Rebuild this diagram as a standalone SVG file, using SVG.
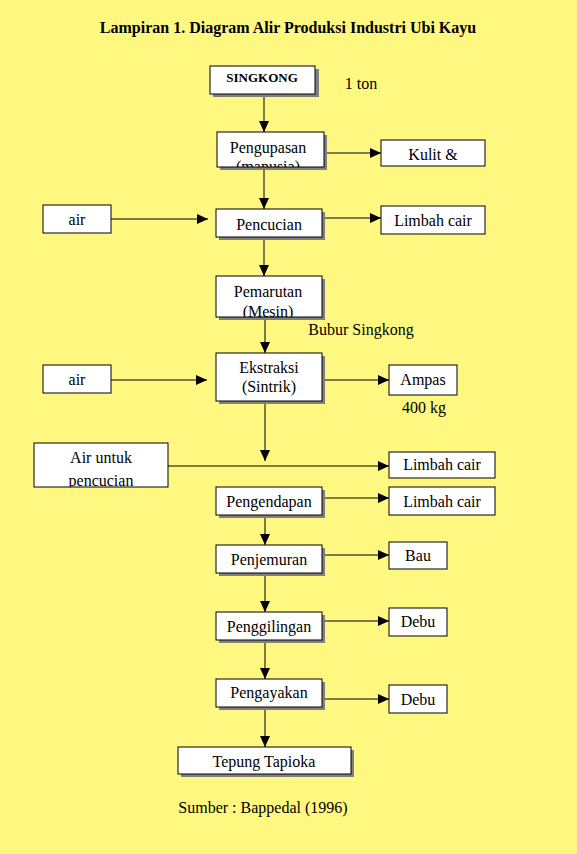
<svg xmlns="http://www.w3.org/2000/svg" width="577" height="854" viewBox="0 0 577 854">
<style>
.bx{fill:#fff;stroke:#000;stroke-width:1}
.sh{fill:#808080}
.t{font-family:"Liberation Serif","Times New Roman",serif;font-size:16px;fill:#000;text-anchor:middle}
.ln{stroke:#000;stroke-width:1;fill:none}
.ar{marker-end:url(#ah)}
</style>
<defs>
<marker id="ah" markerUnits="userSpaceOnUse" markerWidth="11" markerHeight="10" refX="11" refY="5" orient="auto">
<path d="M0,0 L11,5 L0,10 z" fill="#000"/>
</marker>
<clipPath id="c1"><rect x="217" y="132" width="107" height="35"/></clipPath>
<clipPath id="c2"><rect x="216" y="276" width="106" height="41"/></clipPath>
<clipPath id="c3"><rect x="34" y="443" width="134" height="44"/></clipPath>
</defs>
<rect width="577" height="854" fill="#FFF880"/>
<text x="288" y="33" class="t" style="font-weight:bold;font-size:16px">Lampiran 1. Diagram Alir Produksi Industri Ubi Kayu</text>

<g id="connectors">
<line x1="264" y1="94" x2="264" y2="132" class="ln ar"/>
<line x1="324" y1="153" x2="381" y2="153" class="ln ar"/>
<line x1="264" y1="167" x2="264" y2="209" class="ln ar"/>
<line x1="111" y1="219" x2="208" y2="219" class="ln ar"/>
<line x1="322" y1="218" x2="381" y2="218" class="ln ar"/>
<line x1="264" y1="237" x2="264" y2="276" class="ln ar"/>
<line x1="265" y1="317" x2="265" y2="353" class="ln ar"/>
<line x1="111" y1="380" x2="207" y2="380" class="ln ar"/>
<line x1="322" y1="380" x2="389" y2="380" class="ln ar"/>
<line x1="265" y1="401" x2="265" y2="461" class="ln ar"/>
<line x1="168" y1="466" x2="389" y2="466" class="ln ar"/>
<line x1="322" y1="498" x2="389" y2="498" class="ln ar"/>
<line x1="265" y1="515" x2="265" y2="545" class="ln ar"/>
<line x1="322" y1="555" x2="389" y2="555" class="ln ar"/>
<line x1="265" y1="573" x2="265" y2="612" class="ln ar"/>
<line x1="322" y1="621" x2="389" y2="621" class="ln ar"/>
<line x1="265" y1="640" x2="265" y2="679" class="ln ar"/>
<line x1="322" y1="699" x2="389" y2="699" class="ln ar"/>
<line x1="265" y1="707" x2="265" y2="747" class="ln ar"/>
</g>

<g id="singkong">
<rect x="213" y="69" width="106" height="28" class="sh"/>
<rect x="210" y="66" width="105" height="28" class="bx"/>
<text x="262" y="82" class="t" style="font-weight:bold;font-size:13px">SINGKONG</text>
</g>
<g id="label-1ton"><text x="361" y="89" class="t">1 ton</text></g>

<g id="pengupasan">
<rect x="220" y="135" width="107" height="35" class="sh"/>
<rect x="217" y="132" width="107" height="35" class="bx"/>
<g clip-path="url(#c1)">
<text x="268" y="153" class="t">Pengupasan</text>
<text x="268" y="172" class="t">(manusia)</text>
</g>
</g>

<g id="kulit">
<rect x="381" y="140" width="104" height="26" class="bx"/>
<text x="433" y="160" class="t">Kulit &amp;</text>
</g>

<g id="air1">
<rect x="43" y="205" width="68" height="28" class="bx"/>
<text x="77" y="225" class="t">air</text>
</g>

<g id="pencucian">
<rect x="219" y="212" width="106" height="28" class="sh"/>
<rect x="216" y="209" width="106" height="28" class="bx"/>
<text x="269" y="230" class="t">Pencucian</text>
</g>

<g id="limbah1">
<rect x="381" y="206" width="104" height="28" class="bx"/>
<text x="433" y="226" class="t">Limbah cair</text>
</g>

<g id="pemarutan">
<rect x="219" y="279" width="106" height="41" class="sh"/>
<rect x="216" y="276" width="106" height="41" class="bx"/>
<g clip-path="url(#c2)">
<text x="268" y="297" class="t">Pemarutan</text>
<text x="268" y="317" class="t">(Mesin)</text>
</g>
</g>
<g id="label-bubur"><text x="361" y="335" class="t">Bubur Singkong</text></g>

<g id="air2">
<rect x="43" y="365" width="68" height="28" class="bx"/>
<text x="77" y="385" class="t">air</text>
</g>

<g id="ekstraksi">
<rect x="219" y="356" width="106" height="48" class="sh"/>
<rect x="216" y="353" width="106" height="48" class="bx"/>
<text x="269" y="373" class="t">Ekstraksi</text>
<text x="269" y="392" class="t">(Sintrik)</text>
</g>

<g id="ampas">
<rect x="389" y="365" width="68" height="30" class="bx"/>
<text x="423" y="385" class="t">Ampas</text>
</g>
<g id="label-400kg"><text x="424" y="413" class="t">400 kg</text></g>

<g id="air-untuk">
<rect x="34" y="443" width="134" height="44" class="bx"/>
<g clip-path="url(#c3)">
<text x="101" y="463" class="t">Air untuk</text>
<text x="101" y="486" class="t">pencucian</text>
</g>
</g>

<g id="limbah2">
<rect x="389" y="452" width="106" height="26" class="bx"/>
<text x="442" y="470" class="t">Limbah cair</text>
</g>

<g id="pengendapan">
<rect x="219" y="490" width="106" height="28" class="sh"/>
<rect x="216" y="487" width="106" height="28" class="bx"/>
<text x="269" y="507" class="t">Pengendapan</text>
</g>

<g id="limbah3">
<rect x="389" y="487" width="106" height="28" class="bx"/>
<text x="442" y="507" class="t">Limbah cair</text>
</g>

<g id="penjemuran">
<rect x="219" y="548" width="106" height="28" class="sh"/>
<rect x="216" y="545" width="106" height="28" class="bx"/>
<text x="269" y="565" class="t">Penjemuran</text>
</g>

<g id="bau">
<rect x="389" y="542" width="58" height="27" class="bx"/>
<text x="418" y="561" class="t">Bau</text>
</g>

<g id="penggilingan">
<rect x="219" y="615" width="106" height="28" class="sh"/>
<rect x="216" y="612" width="106" height="28" class="bx"/>
<text x="269" y="632" class="t">Penggilingan</text>
</g>

<g id="debu1">
<rect x="389" y="608" width="58" height="28" class="bx"/>
<text x="418" y="627" class="t">Debu</text>
</g>

<g id="pengayakan">
<rect x="219" y="682" width="106" height="28" class="sh"/>
<rect x="216" y="679" width="106" height="28" class="bx"/>
<text x="269" y="698" class="t">Pengayakan</text>
</g>

<g id="debu2">
<rect x="389" y="685" width="58" height="28" class="bx"/>
<text x="418" y="705" class="t">Debu</text>
</g>

<g id="tepung">
<rect x="181" y="750" width="173" height="27" class="sh"/>
<rect x="178" y="747" width="173" height="27" class="bx"/>
<text x="264" y="767" class="t">Tepung Tapioka</text>
</g>

<g id="sumber"><text x="263" y="813" class="t">Sumber : Bappedal (1996)</text></g>
</svg>
